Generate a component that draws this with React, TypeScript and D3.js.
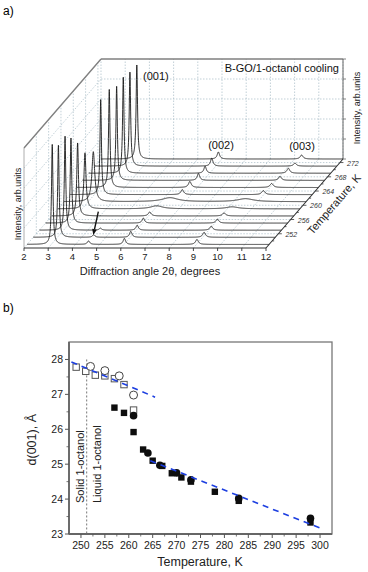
import React from 'react';
import * as d3 from 'd3';

// ---- panel a: XRD scans (cooling), one row per temperature, K
const scanTemps = [249, 251, 253, 255, 257, 259, 261, 263, 265, 267, 269, 271, 273];
const p001Pos = [3.04, 3.04, 3.06, 3.05, 3.07, 3.12, 3.21, 3.26, 3.36, 3.41, 3.43, 3.45, 3.48];
const p001Height = [100, 92, 94, 85, 73, 56, 50, 95, 98, 94, 96, 94, 94];
const p001Width = [0.035, 0.035, 0.035, 0.035, 0.04, 0.05, 0.07, 0.035, 0.035, 0.035, 0.035, 0.035, 0.035];
const p002Pos = [6.02, 6.03, 6.04, 6.04, 6.05, 6.08, 6.38, 6.63, 6.69, 6.79, 6.81, 6.83, 6.85];
const p002Height = [6, 6, 5, 5, 4, 3, 4, 5, 6, 7, 7, 8, 7];
const p002Width = [0.06, 0.06, 0.06, 0.06, 0.07, 0.3, 0.4, 0.07, 0.07, 0.06, 0.06, 0.06, 0.06];
const p003Pos = [9.02, 9.06, 9.1, 9.1, 9.12, 9.2, 9.5, 9.98, 10.07, 10.16, 10.25, 10.27, 10.29];
const p003Height = [5, 5, 4, 4, 3, 2, 3, 4, 4, 4, 5, 3, 4];
const p003Width = [0.07, 0.07, 0.07, 0.07, 0.08, 0.3, 0.4, 0.08, 0.08, 0.07, 0.07, 0.07, 0.07];
const bumpPos = [4.54, 4.5, 4.52, 0, 0, 0, 0, 0, 0, 0, 0, 0, 0];
const bumpHeight = [3.5, 2.5, 2, 0, 0, 0, 0, 0, 0, 0, 0, 0, 0];

const angleTicks = [2, 3, 4, 5, 6, 7, 8, 9, 10, 11, 12];
const tempTicks = [252, 256, 260, 264, 268, 272];
const intensityGrid = [20, 40, 60, 80];

// ---- panel b: d(001) vs temperature
const openSqT = [249, 251, 253, 255, 257, 259, 261];
const openSqD = [27.78, 27.66, 27.55, 27.53, 27.45, 27.28, 26.55];
const openCircT = [252, 255, 258, 261];
const openCircD = [27.8, 27.68, 27.53, 26.98];
const fillSqT = [257, 259, 261, 263, 265, 267, 269, 271, 273, 278, 283, 298];
const fillSqD = [26.62, 26.47, 25.92, 25.42, 25.1, 24.95, 24.74, 24.62, 24.5, 24.21, 23.95, 23.33];
const fillCircT = [261, 264, 266.5, 270, 273, 283, 298];
const fillCircD = [26.39, 25.32, 24.97, 24.75, 24.55, 24.02, 23.45];
const fitSolidT = [248, 265.5];
const fitSolidD = [27.93, 26.92];
const fitLiquidT = [264.5, 300];
const fitLiquidD = [25.1, 23.17];
const meltT = 251.2;
const tTicks = [250, 255, 260, 265, 270, 275, 280, 285, 290, 295, 300];
const dTicks = [23, 24, 25, 26, 27, 28];

const FONT = '"Liberation Sans", Arial, Helvetica, sans-serif';
const GRID = '#a7bcc6';

const lor = (x: number, p: number, h: number, w: number) => h / (1 + ((x - p) / w) ** 2);

const Waterfall = () => {
  const xA = d3.scaleLinear().domain([2, 12]).range([24, 266]);
  const zA = d3.scaleLinear().domain([248, 273]).range([0, 1]);
  const iA = d3.scaleLinear().domain([0, 100]).range([0, 100]);
  const base = 248, dX = 77, dY = 89;
  const P = (tt: number, T: number, I: number): [number, number] =>
    [xA(tt) + zA(T) * dX, base - iA(I) - zA(T) * dY];
  const seg = (a: [number, number], b: [number, number]) => `M${a[0]},${a[1]}L${b[0]},${b[1]}`;
  const line = d3.line<[number, number]>();
  const grid = d3.range(2, 12.0001, 0.005);

  const curves = scanTemps.map((T, i) =>
    line(grid.map(tt => {
      let I = lor(tt, p001Pos[i], p001Height[i], p001Width[i])
        + lor(tt, p002Pos[i], p002Height[i], p002Width[i])
        + lor(tt, p003Pos[i], p003Height[i], p003Width[i]);
      if (bumpHeight[i] > 0) I += lor(tt, bumpPos[i], bumpHeight[i], 0.06);
      return P(tt, T, I);
    }))
  );

  const T0 = 248, T1 = 273;
  const gridPaths: string[] = [];
  angleTicks.forEach(a => {
    gridPaths.push(seg(P(a, T0, 0), P(a, T1, 0))); // floor
    gridPaths.push(seg(P(a, T1, 0), P(a, T1, 100))); // back wall
  });
  tempTicks.forEach(T => {
    gridPaths.push(seg(P(2, T, 0), P(12, T, 0)));
    gridPaths.push(seg(P(2, T, 0), P(2, T, 100)));
  });
  intensityGrid.forEach(I => {
    gridPaths.push(seg(P(2, T1, I), P(12, T1, I)));
    gridPaths.push(seg(P(2, T0, I), P(2, T1, I)));
  });

  const arrowTip = P(4.48, 251, 2.3);
  const arrowTail = P(4.69, 251, 25.6);
  const ang = Math.atan2(arrowTip[1] - arrowTail[1], arrowTip[0] - arrowTail[0]);
  const hl = 6, hw = 2.4;
  const hb: [number, number] = [arrowTip[0] - hl * Math.cos(ang), arrowTip[1] - hl * Math.sin(ang)];
  const head = `M${arrowTip[0]},${arrowTip[1]}L${hb[0] + hw * Math.sin(ang)},${hb[1] - hw * Math.cos(ang)}L${hb[0] - hw * Math.sin(ang)},${hb[1] + hw * Math.cos(ang)}Z`;

  const tAxisAng = Math.atan2(-dY, dX) * 180 / Math.PI;
  const tMid = P(12, 261, 0);

  return (
    <g fontFamily={FONT}>
      <text x={3} y={15} fontSize={12}>a)</text>
      <path d={gridPaths.join('')} stroke={GRID} strokeWidth={0.7} strokeDasharray="1.5,1.5" fill="none" />
      {/* box edges */}
      <path d={seg(P(2, T0, 100), P(2, T1, 100)) + seg(P(2, T1, 100), P(12, T1, 100))} stroke="#808080" strokeWidth={1.4} fill="none" />
      <path d={seg(P(2, T0, 0), P(2, T0, 100))} stroke="#9a9a9a" strokeWidth={0.8} fill="none" />
      <path d={seg(P(12, T1, 0), P(12, T1, 100))} stroke="#666" strokeWidth={1} fill="none" />
      {[0, 20, 40, 60, 80, 100].map(I => {
        const p = P(12, T1, I);
        return <line key={I} x1={p[0]} y1={p[1]} x2={p[0] + 3} y2={p[1]} stroke="#666" strokeWidth={0.8} />;
      })}
      {/* curves */}
      {curves.map((d, i) => <path key={i} d={d || ''} fill="none" stroke="#1a1a1a" strokeWidth={0.9} />)}
      {/* front angle axis */}
      <path d={seg(P(2, T0, 0), P(12, T0, 0))} stroke="#333" strokeWidth={1.1} fill="none" />
      {angleTicks.map(a => {
        const p = P(a, T0, 0);
        return (
          <g key={a}>
            <line x1={p[0]} y1={p[1]} x2={p[0]} y2={p[1] + 3} stroke="#333" strokeWidth={0.9} />
            <text x={p[0]} y={p[1] + 12} fontSize={9.5} textAnchor="middle" fill="#222">{a}</text>
          </g>
        );
      })}
      <text x={150} y={275} fontSize={11} textAnchor="middle" fill="#222">Diffraction angle 2θ, degrees</text>
      {/* temperature axis */}
      <path d={seg(P(12, T0, 0), P(12, T1, 0))} stroke="#333" strokeWidth={1.1} fill="none" />
      {d3.range(250, 273, 2).map(T => {
        const p = P(12, T, 0);
        return <line key={T} x1={p[0]} y1={p[1]} x2={p[0] + (T % 4 === 0 ? 3.5 : 2)} y2={p[1]} stroke="#333" strokeWidth={0.8} />;
      })}
      {tempTicks.map(T => {
        const p = P(12, T, 0);
        return <text key={T} x={p[0] + 13} y={p[1] + 3} fontSize={7} fontStyle="italic" textAnchor="middle" fill="#333">{T}</text>;
      })}
      <text transform={`translate(${tMid[0] + 31},${tMid[1] + 5}) rotate(${tAxisAng})`} fontSize={11} textAnchor="middle" fill="#222">Temperature, K</text>
      {/* intensity labels */}
      <text transform="translate(21,204) rotate(-90)" fontSize={9} textAnchor="middle" fill="#222">Intensity, arb.units</text>
      <text transform="translate(360,108) rotate(-90)" fontSize={9} textAnchor="middle" fill="#222">Intensity, arb.units</text>
      {/* annotations */}
      <text x={339} y={72} fontSize={11} textAnchor="end" fill="#111">B-GO/1-octanol cooling</text>
      <text x={143} y={80} fontSize={11} fill="#111">(001)</text>
      <text x={221} y={149} fontSize={11} textAnchor="middle" fill="#111">(002)</text>
      <text x={302} y={150} fontSize={11} textAnchor="middle" fill="#111">(003)</text>
      <line x1={arrowTail[0]} y1={arrowTail[1]} x2={hb[0]} y2={hb[1]} stroke="#111" strokeWidth={1.4} />
      <path d={head} fill="#111" />
    </g>
  );
};

const Scatter = () => {
  const m = { left: 69, right: 332, top: 342, bottom: 534 };
  const x = d3.scaleLinear().domain([247.5, 302.5]).range([m.left, m.right]);
  const y = d3.scaleLinear().domain([23, 28.5]).range([m.bottom, m.top]);
  const line = d3.line<[number, number]>().x(d => x(d[0])).y(d => y(d[1]));
  const sq = 6.4, r = 3.8;
  const minorX = d3.range(252.5, 300, 5);
  const minorY = d3.range(23.5, 28.5, 1);

  return (
    <g fontFamily={FONT}>
      <text x={3} y={312} fontSize={12}>b)</text>
      <rect x={m.left} y={m.top} width={m.right - m.left} height={m.bottom - m.top} fill="none" stroke="#777" strokeWidth={1.3} />
      <line x1={m.left} y1={m.top} x2={m.left} y2={m.bottom} stroke="#666" strokeWidth={1.8} />
      <line x1={m.left} y1={m.bottom} x2={m.right} y2={m.bottom} stroke="#666" strokeWidth={1.8} />
      {tTicks.map(t => (
        <g key={t}>
          <line x1={x(t)} y1={m.bottom} x2={x(t)} y2={m.bottom + 4} stroke="#555" strokeWidth={1} />
          <text x={x(t)} y={m.bottom + 15} fontSize={10.5} textAnchor="middle" fill="#222">{t}</text>
        </g>
      ))}
      {minorX.map(t => <line key={t} x1={x(t)} y1={m.bottom} x2={x(t)} y2={m.bottom + 2.5} stroke="#555" strokeWidth={0.8} />)}
      {dTicks.map(d => (
        <g key={d}>
          <line x1={m.left - 4} y1={y(d)} x2={m.left} y2={y(d)} stroke="#555" strokeWidth={1} />
          <text x={m.left - 6} y={y(d) + 4} fontSize={10.5} textAnchor="end" fill="#222">{d}</text>
        </g>
      ))}
      {minorY.map(d => <line key={d} x1={m.left - 2.5} y1={y(d)} x2={m.left} y2={y(d)} stroke="#555" strokeWidth={0.8} />)}
      <text x={200} y={566} fontSize={12.5} textAnchor="middle" fill="#222">Temperature, K</text>
      <text transform={`translate(36,${y(25.7)}) rotate(-90)`} fontSize={12.5} textAnchor="middle" fill="#222">d(001), Å</text>

      <line x1={x(meltT)} y1={y(28)} x2={x(meltT)} y2={m.bottom} stroke="#777" strokeWidth={1} strokeDasharray="2,2" />
      <text transform={`translate(${x(meltT) - 2.5},503) rotate(-90)`} fontSize={11} fill="#222">Solid 1-octanol</text>
      <text transform={`translate(${x(meltT) + 14},503) rotate(-90)`} fontSize={11} fill="#222">Liquid 1-octanol</text>

      {openSqT.map((t, i) => (
        <rect key={'os' + i} x={x(t) - sq / 2} y={y(openSqD[i]) - sq / 2} width={sq} height={sq} fill="#fff" stroke="#555" strokeWidth={1} />
      ))}
      {openCircT.map((t, i) => (
        <circle key={'oc' + i} cx={x(t)} cy={y(openCircD[i])} r={r + 0.2} fill="#fff" stroke="#444" strokeWidth={1} />
      ))}
      {fillSqT.map((t, i) => (
        <rect key={'fs' + i} x={x(t) - sq / 2} y={y(fillSqD[i]) - sq / 2} width={sq} height={sq} fill="#0d0d0d" />
      ))}
      {fillCircT.map((t, i) => (
        <circle key={'fc' + i} cx={x(t)} cy={y(fillCircD[i])} r={r} fill="#0d0d0d" />
      ))}
      <path d={line(fitSolidT.map((t, i) => [t, fitSolidD[i]] as [number, number])) || ''} stroke="#1d3fe0" strokeWidth={1.6} strokeDasharray="6,5" fill="none" />
      <path d={line(fitLiquidT.map((t, i) => [t, fitLiquidD[i]] as [number, number])) || ''} stroke="#1d3fe0" strokeWidth={1.6} strokeDasharray="6,5" fill="none" />
    </g>
  );
};

export default function App() {
  return (
    <svg width={368} height={572} style={{ position: 'absolute', left: 0, top: 0, background: '#fff' }}>
      <rect width={368} height={572} fill="#fff" />
      <Waterfall />
      <Scatter />
    </svg>
  );
}
